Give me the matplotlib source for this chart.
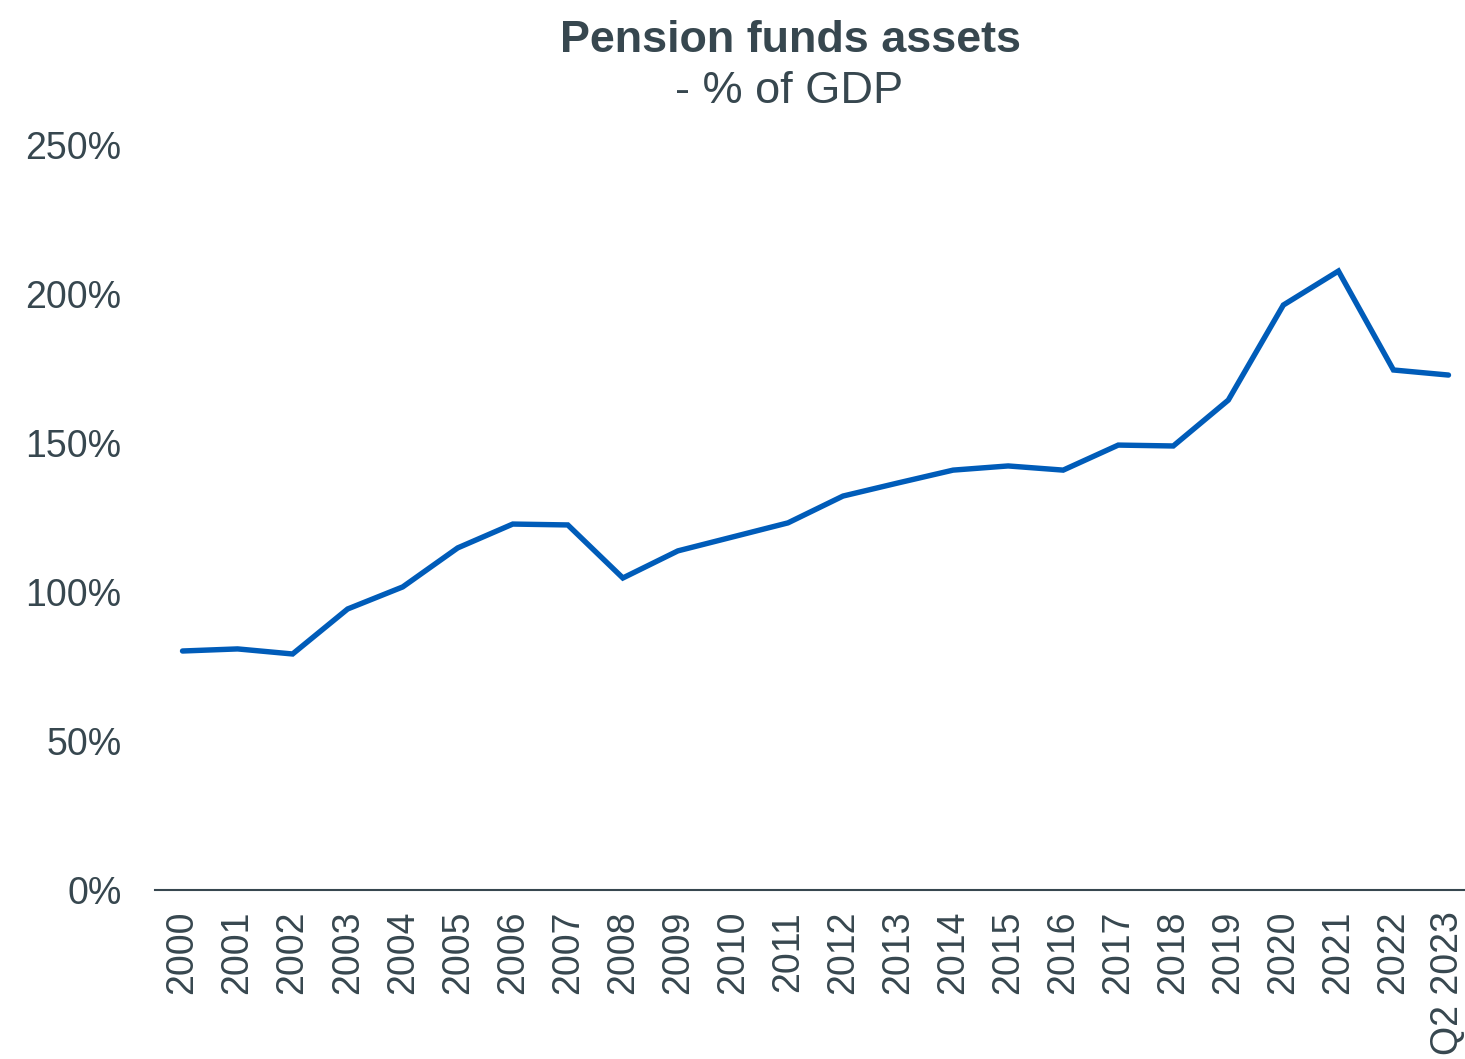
import matplotlib.pyplot as plt
from matplotlib.ticker import FuncFormatter

plt.rcParams['font.family'] = ['Liberation Sans', 'DejaVu Sans']

#Chart data
years = ['2000', '2001', '2002', '2003', '2004', '2005', '2006', '2007', '2008', '2009',
         '2010', '2011', '2012', '2013', '2014', '2015', '2016', '2017', '2018', '2019',
         '2020', '2021', '2022', 'Q2 2023']
assets = [80.2, 80.9, 79.2, 94.3, 101.7, 114.8, 122.8, 122.5, 104.7, 113.8,
          118.5, 123.2, 132.2, 136.6, 140.9, 142.3, 140.9, 149.3, 149.0, 164.4,
          196.3, 207.7, 174.5, 172.8]
yticks = [0, 50, 100, 150, 200, 250]

textcol = '#37474f'
linecol = '#005cb9'

fig = plt.figure(figsize=(14.65, 10.59), dpi=100)
ax = fig.add_axes([155 / 1465, 169 / 1059, 1310 / 1465, 745 / 1059])

x = list(range(len(years)))
ax.plot(x, assets, color=linecol, linewidth=3.9, solid_capstyle='round', solid_joinstyle='miter')

ax.set_xlim(-0.5, len(years) - 1 + 0.3)
ax.set_ylim(0, 250)
ax.set_yticks(yticks)
ax.yaxis.set_major_formatter(FuncFormatter(lambda v, p: f'{v:.0f}%'))
ax.set_xticks(x)
ax.set_xticklabels(years, rotation=90, va='top')

ax.tick_params(axis='y', length=0, pad=24, labelsize=27, labelcolor=textcol)
ax.tick_params(axis='x', length=0, pad=15, labelsize=27, labelcolor=textcol)

for s in ['top', 'right', 'left']:
    ax.spines[s].set_visible(False)
ax.spines['bottom'].set_color(textcol)
ax.spines['bottom'].set_linewidth(1.5)

#Title and subtitle
fig.text(791 / 1465, 1 - 52 / 1059, 'Pension funds assets', ha='center', va='baseline',
         fontsize=32.3, fontweight='bold', color=textcol)
fig.text(789 / 1465, 1 - 103 / 1059, '- % of GDP', ha='center', va='baseline',
         fontsize=32.5, color=textcol)

plt.savefig('out.png', dpi=100)
